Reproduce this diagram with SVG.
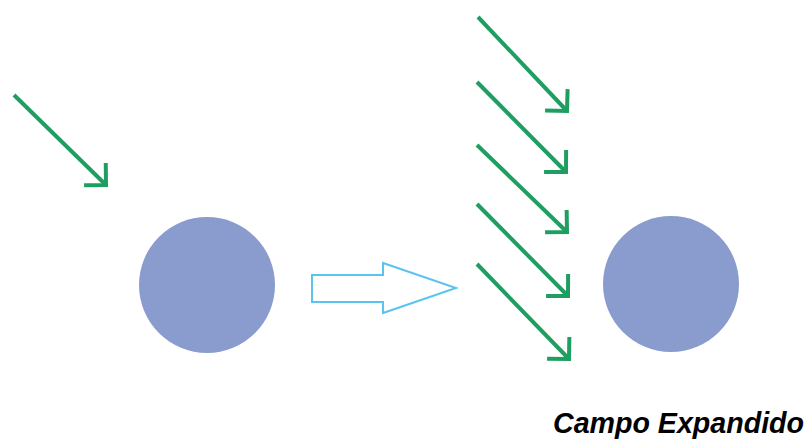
<svg xmlns="http://www.w3.org/2000/svg" width="811" height="439" viewBox="0 0 811 439">
  <style>
    .ray { stroke: #1f9e62; stroke-width: 4; fill: none; marker-end: url(#chevron); }
    .body { fill: #8a9bcd; }
    .shift { fill: #ffffff; stroke: #5cc3ef; stroke-width: 2; stroke-linejoin: miter; }
    .label { font-family: "Liberation Sans", Arial, sans-serif; font-size: 28.6px; font-weight: bold; font-style: italic; fill: #000000; }
  </style>
  <defs>
    <marker id="chevron" markerUnits="userSpaceOnUse" orient="auto" refX="0" refY="0" markerWidth="40" markerHeight="40" viewBox="-30 -20 40 40" overflow="visible">
      <path d="M -15.5 -15.5 L 0 0 L -15.5 15.5" fill="none" stroke="#1f9e62" stroke-width="4" stroke-linejoin="miter"/>
    </marker>
  </defs>

  <!-- incident ray on the single body -->
  <g id="ray-single">
    <line class="ray" x1="14" y1="95" x2="106" y2="185"/>
  </g>

  <g id="body-left">
    <circle class="body" cx="207" cy="285" r="68"/>
  </g>

  <!-- hollow transition arrow -->
  <g id="transition">
    <polygon class="shift" points="312,275 383,275 383,263 456,288 383,313 383,302 312,302"/>
  </g>

  <!-- parallel rays of the expanded field -->
  <g id="rays-expanded">
    <line class="ray" x1="478" y1="17" x2="567" y2="111"/>
    <line class="ray" x1="477" y1="82" x2="566" y2="172"/>
    <line class="ray" x1="477" y1="145" x2="567" y2="232"/>
    <line class="ray" x1="477" y1="204" x2="568" y2="296"/>
    <line class="ray" x1="477" y1="264" x2="569" y2="359"/>
  </g>

  <g id="body-right">
    <circle class="body" cx="671" cy="284" r="68"/>
  </g>

  <g id="caption">
    <text class="label" x="553" y="433">Campo Expandido</text>
  </g>
</svg>
